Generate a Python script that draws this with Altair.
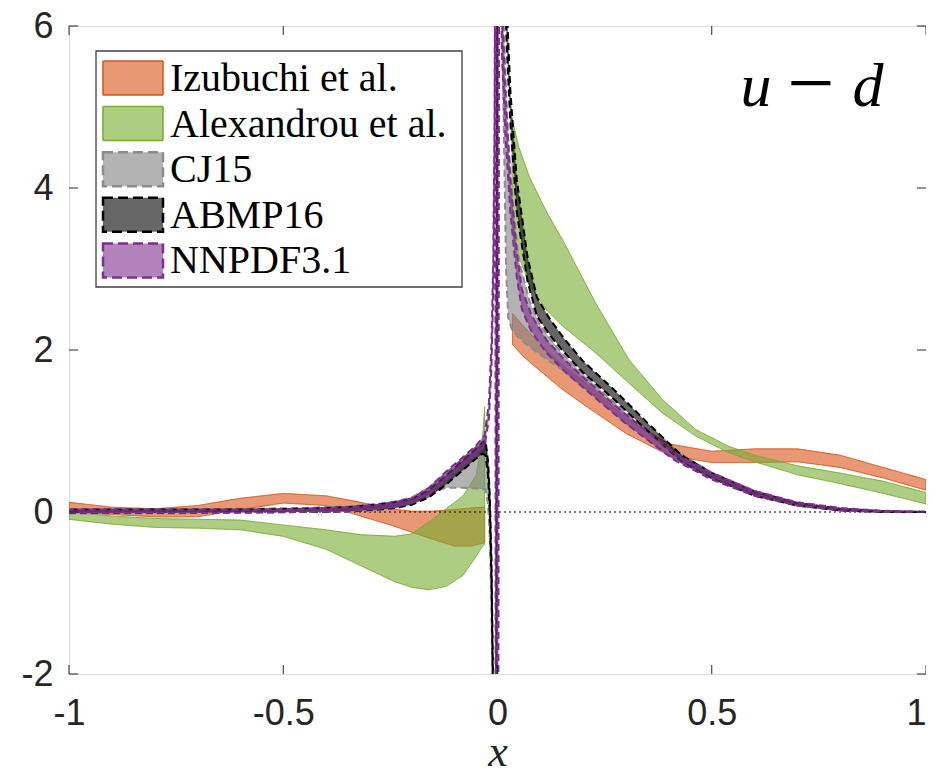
import altair as alt
import pandas as pd

# ---------------- data ----------------
x_ticks = [-1, -0.5, 0, 0.5, 1]
y_ticks = [-2, 0, 2, 4, 6]

series_names = ["Izubuchi et al.", "Alexandrou et al.", "CJ15", "ABMP16", "NNPDF3.1"]

# Izubuchi et al. (two pieces)
iz_x_left = [-1.0, -0.9, -0.8, -0.7, -0.6, -0.5, -0.4, -0.32, -0.25, -0.2, -0.15, -0.1, -0.06, -0.03]
iz_lo_left = [0.0, -0.03, -0.06, -0.06, 0.03, 0.11, 0.08, -0.05, -0.16, -0.25, -0.34, -0.42, -0.42, -0.38]
iz_hi_left = [0.12, 0.06, 0.04, 0.08, 0.17, 0.23, 0.2, 0.12, 0.04, 0.01, 0.01, 0.03, 0.05, 0.06]
iz_x_right = [0.035, 0.06, 0.1, 0.15, 0.2, 0.3, 0.4, 0.5, 0.6, 0.7, 0.8, 0.9, 1.0]
iz_lo_right = [2.07, 1.92, 1.74, 1.52, 1.33, 0.97, 0.70, 0.61, 0.61, 0.62, 0.55, 0.42, 0.27]
iz_hi_right = [2.45, 2.30, 2.06, 1.82, 1.62, 1.16, 0.84, 0.75, 0.78, 0.78, 0.70, 0.55, 0.40]

# Alexandrou et al. (two pieces)
al_x_left = [-1.0, -0.9, -0.8, -0.7, -0.6, -0.5, -0.4, -0.32, -0.24, -0.2, -0.16, -0.12, -0.08, -0.05, -0.035, -0.03]
al_lo_left = [-0.09, -0.15, -0.19, -0.20, -0.22, -0.30, -0.46, -0.66, -0.86, -0.93, -0.96, -0.92, -0.78, -0.55, -0.42, -0.40]
al_hi_left = [0.0, -0.05, -0.08, -0.09, -0.10, -0.16, -0.22, -0.28, -0.30, -0.27, -0.12, 0.04, 0.20, 0.45, 0.9, 1.3]
al_x_right = [0.034, 0.05, 0.075, 0.115, 0.153, 0.23, 0.307, 0.385, 0.462, 0.54, 0.6, 0.7, 0.8, 0.9, 1.0]
al_lo_right = [3.5, 3.15, 2.8, 2.49, 2.29, 1.96, 1.59, 1.22, 0.94, 0.73, 0.62, 0.46, 0.35, 0.23, 0.10]
al_hi_right = [4.86, 4.50, 4.13, 3.70, 3.35, 2.57, 1.88, 1.39, 1.02, 0.81, 0.70, 0.57, 0.48, 0.38, 0.24]

# CJ15
cj_x = [-1.0, -0.8, -0.6, -0.45, -0.35, -0.28, -0.24, -0.2, -0.16, -0.12, -0.08, -0.05, -0.035, -0.028,
        -0.022, -0.018, -0.014, -0.01, -0.006, -0.004,
        0.001, 0.006, 0.012, 0.02, 0.025, 0.034, 0.05, 0.075, 0.1, 0.15, 0.2, 0.3, 0.4, 0.5, 0.6, 0.7, 0.8, 0.9, 1.0]
cj_lo = [-0.02, -0.02, -0.01, 0.0, 0.0, 0.02, 0.04, 0.1, 0.22, 0.30, 0.30, 0.29, 0.28, 0.28,
         0.1, -0.3, -1.2, -2.8, -6.0, -9.0,
         14.0, 7.8, 5.6, 3.0, 2.4, 2.25, 2.15, 2.04, 1.94, 1.76, 1.55, 1.10, 0.70, 0.42, 0.21, 0.08, 0.02, 0.0, 0.0]
cj_hi = [0.03, 0.03, 0.04, 0.05, 0.07, 0.10, 0.13, 0.18, 0.30, 0.48, 0.66, 0.80, 0.86, 0.86,
         0.6, 0.2, -0.7, -2.4, -5.0, -8.0,
         16.0, 8.8, 6.4, 5.2, 4.6, 3.9, 3.1, 2.6, 2.3, 1.96, 1.70, 1.22, 0.80, 0.49, 0.26, 0.11, 0.04, 0.01, 0.0]

# ABMP16
ab_x = [-1.0, -0.8, -0.6, -0.45, -0.35, -0.28, -0.24, -0.2, -0.16, -0.12, -0.08, -0.05, -0.035, -0.028,
        -0.022, -0.018, -0.014, -0.01, -0.006, -0.004,
        0.001, 0.01, 0.022, 0.03, 0.045, 0.07, 0.092, 0.12, 0.154, 0.2, 0.27, 0.35, 0.43, 0.5, 0.6, 0.7, 0.8, 0.9, 1.0]
ab_lo = [-0.01, -0.01, 0.0, 0.0, 0.01, 0.03, 0.05, 0.09, 0.18, 0.34, 0.52, 0.66, 0.72, 0.70,
         0.45, 0.0, -0.9, -2.5, -6.0, -9.0,
         14.0, 7.5, 5.7, 4.8, 3.7, 2.85, 2.42, 2.2, 1.98, 1.72, 1.40, 1.0, 0.62, 0.42, 0.20, 0.08, 0.02, 0.0, 0.0]
ab_hi = [0.03, 0.03, 0.03, 0.04, 0.06, 0.09, 0.12, 0.16, 0.27, 0.45, 0.64, 0.78, 0.86, 0.88,
         0.62, 0.2, -0.6, -2.2, -5.0, -8.0,
         16.0, 8.2, 6.2, 5.2, 4.1, 3.15, 2.65, 2.4, 2.15, 1.86, 1.52, 1.1, 0.70, 0.48, 0.25, 0.11, 0.04, 0.01, 0.0]

# NNPDF3.1
nn_x = [-1.0, -0.8, -0.6, -0.45, -0.35, -0.28, -0.24, -0.2, -0.16, -0.12, -0.08, -0.05, -0.03, -0.02,
        -0.014, -0.01, -0.007, -0.005, -0.004,
        0.001, 0.004, 0.01, 0.018, 0.03, 0.045, 0.057, 0.08, 0.115, 0.16, 0.23, 0.3, 0.41, 0.5, 0.6, 0.7, 0.8, 0.9, 1.0]
nn_lo = [-0.01, -0.01, -0.01, 0.0, 0.01, 0.04, 0.06, 0.11, 0.22, 0.40, 0.58, 0.71, 0.82, 1.15,
         1.8, 2.7, 4.2, 7.0, -9.0,
         -9.0, 8.5, 5.7, 4.7, 3.7, 2.9, 2.5, 2.22, 1.96, 1.72, 1.40, 1.09, 0.65, 0.40, 0.20, 0.08, 0.02, 0.0, 0.0]
nn_hi = [0.03, 0.03, 0.03, 0.04, 0.06, 0.09, 0.12, 0.17, 0.30, 0.50, 0.68, 0.82, 0.95, 1.35,
         2.1, 3.1, 4.8, 8.0, 9.0,
         9.0, 9.5, 6.3, 5.2, 4.1, 3.2, 2.75, 2.42, 2.12, 1.86, 1.52, 1.20, 0.74, 0.48, 0.26, 0.12, 0.05, 0.015, 0.005]

# ---------------- styles ----------------
fill_colors = ["#D95319", "#77AC30", "#808080", "#000000", "#7E2F8E"]
edge_colors = ["#D95319", "#77AC30", "#8C8C8C", "#000000", "#7E2F8E"]
edge_dash = [[1, 0], [1, 0], [7, 4], [7, 4], [7, 4]]
edge_width = [1.0, 1.0, 2.0, 2.0, 2.0]
fill_alpha = 0.6

rows = []
def add(series, part, xs_, lo_, hi_):
    for a, b, c in zip(xs_, lo_, hi_):
        rows.append({"series": series, "part": part, "x": a, "lo": b, "hi": c})

add(series_names[0], "L", iz_x_left, iz_lo_left, iz_hi_left)
add(series_names[0], "R", iz_x_right, iz_lo_right, iz_hi_right)
add(series_names[1], "L", al_x_left, al_lo_left, al_hi_left)
add(series_names[1], "R", al_x_right, al_lo_right, al_hi_right)
add(series_names[2], "A", cj_x, cj_lo, cj_hi)
add(series_names[3], "A", ab_x, ab_lo, ab_hi)
add(series_names[4], "A", nn_x, nn_lo, nn_hi)
df = pd.DataFrame(rows)

W, H = 857, 648
xsc = alt.Scale(domain=[-1, 1], nice=False, zero=False)
ysc = alt.Scale(domain=[-2, 6], nice=False, zero=False)

ax_x = alt.Axis(values=x_ticks, labelExpr="'' + datum.value", domain=False, ticks=False, grid=False,
                labelFont="Liberation Sans", labelFontSize=36, labelColor="#262626",
                labelPadding=22, title="", labelFlush=False,
                labelOffset={"condition": {"test": "datum.value === 1", "value": -10}, "value": 0})
ax_y = alt.Axis(values=y_ticks, labelExpr="'' + datum.value", domain=False, ticks=False, grid=False,
                labelFont="Liberation Sans", labelFontSize=36, labelColor="#262626",
                labelPadding=16, title="", labelFlush=False)

layers = []
for i, name in enumerate(series_names):
    layers.append(
        alt.Chart(df).transform_filter(alt.datum.series == name).mark_area(
            clip=True, fill=fill_colors[i], fillOpacity=fill_alpha,
            stroke=edge_colors[i], strokeWidth=edge_width[i], strokeDash=edge_dash[i],
        ).encode(
            x=alt.X("x:Q", scale=xsc, axis=ax_x),
            y=alt.Y("lo:Q", scale=ysc, axis=ax_y),
            y2="hi:Q",
            detail="part:N",
        )
    )
    if i == 1:
        # dotted zero line
        layers.append(
            alt.Chart(pd.DataFrame({"z": [0]})).mark_rule(color="#000000", strokeWidth=1, strokeDash=[2, 3]).encode(
                y=alt.Y("z:Q", scale=ysc, axis=ax_y)
            )
        )

tick_len = 9
tick_col = "#262626"
xt = pd.DataFrame({"t": x_ticks})
yt = pd.DataFrame({"t": y_ticks})
layers += [
    alt.Chart(xt).mark_rule(color=tick_col, strokeWidth=1).encode(
        x=alt.X("t:Q", scale=xsc, axis=ax_x), y=alt.value(H), y2=alt.value(H - tick_len)),
    alt.Chart(xt).mark_rule(color=tick_col, strokeWidth=1).encode(
        x=alt.X("t:Q", scale=xsc, axis=ax_x), y=alt.value(0), y2=alt.value(tick_len)),
    alt.Chart(yt).mark_rule(color=tick_col, strokeWidth=1).encode(
        y=alt.Y("t:Q", scale=ysc, axis=ax_y), x=alt.value(0), x2=alt.value(tick_len)),
    alt.Chart(yt).mark_rule(color=tick_col, strokeWidth=1).encode(
        y=alt.Y("t:Q", scale=ysc, axis=ax_y), x=alt.value(W), x2=alt.value(W - tick_len)),
]

# legend (drawn by hand, top-left inside the plot)
one = pd.DataFrame({"k": [0]})
layers.append(
    alt.Chart(one).mark_rect(fill="white", stroke="#404040", strokeWidth=1.3).encode(
        x=alt.value(27), x2=alt.value(393), y=alt.value(25), y2=alt.value(261))
)
row_step = 45.6
for i, name in enumerate(series_names):
    yc = 52 + i * row_step
    layers.append(
        alt.Chart(one).mark_rect(fill=fill_colors[i], fillOpacity=fill_alpha, stroke=edge_colors[i],
                                 strokeWidth=edge_width[i] + 0.5, strokeDash=[10, 5] if i >= 2 else [1, 0]).encode(
            x=alt.value(34), x2=alt.value(94), y=alt.value(yc - 17), y2=alt.value(yc + 17))
    )
    layers.append(
        alt.Chart(pd.DataFrame({"name": [name]})).mark_text(
            font="Liberation Serif", fontSize=40, align="left", baseline="middle", color="#000000"
        ).encode(text="name:N", x=alt.value(101), y=alt.value(yc + 1))
    )

# panel label u − d and axis title x
layers += [
    alt.Chart(pd.DataFrame({"t": ["u"]})).mark_text(font="Liberation Serif", fontStyle="italic", fontSize=62,
        align="center", baseline="alphabetic", color="#000000").encode(text="t:N", x=alt.value(687), y=alt.value(80)),
    alt.Chart(pd.DataFrame({"t": ["\u2212"]})).mark_text(font="Liberation Serif", fontSize=84,
        align="center", baseline="alphabetic", color="#000000").encode(text="t:N", x=alt.value(742), y=alt.value(85)),
    alt.Chart(pd.DataFrame({"t": ["d"]})).mark_text(font="Liberation Serif", fontStyle="italic", fontSize=62,
        align="center", baseline="alphabetic", color="#000000").encode(text="t:N", x=alt.value(799), y=alt.value(80)),
    alt.Chart(pd.DataFrame({"t": ["x"]})).mark_text(font="Liberation Serif", fontStyle="italic", fontSize=44,
        align="center", baseline="alphabetic", color="#262626").encode(text="t:N", x=alt.value(429), y=alt.value(740)),
]

chart = alt.layer(*layers).properties(
    width=W, height=H,
    padding={"left": 61, "top": 18, "right": 0, "bottom": 98},
    autosize=alt.AutoSizeParams(type="none"),
).configure_view(stroke="#262626", strokeWidth=1.3).configure(background="white")

chart.save("out.html", embed_options={"renderer": "svg", "actions": False})
